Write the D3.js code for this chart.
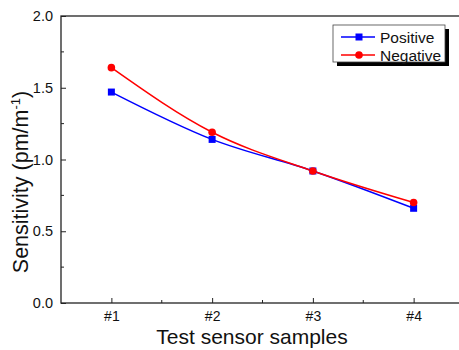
<!DOCTYPE html>
<html>
<head>
<meta charset="utf-8">
<script src="https://cdn.jsdelivr.net/npm/d3@7"></script>
<style>
  body { margin: 0; background: #fff; }
  text { font-family: Arial, "Liberation Sans", sans-serif; }
</style>
</head>
<body>
<div class="canvas"></div>
<script>
// data
var samples = ["#1", "#2", "#3", "#4"];
var positive = [1.47, 1.14, 0.92, 0.66];
var negative = [1.64, 1.19, 0.92, 0.70];
var yTicks = [0, 0.5, 1.0, 1.5, 2.0];

var W = 459, H = 350;
var margin = {top: 16, left: 61, bottom: 47};

var svg = d3.select(".canvas")
    .append("svg")
    .attr("width", W)
    .attr("height", H);

var x = d3.scaleLinear()
    .domain([0.5, 4.5])
    .range([margin.left, margin.left + 403]);

var y = d3.scaleLinear()
    .domain([0, 2])
    .range([H - margin.bottom, margin.top]);

// frame (right side falls outside the picture)
svg.append("rect")
    .attr("x", x(0.5))
    .attr("y", y(2))
    .attr("width", x(4.5) - x(0.5))
    .attr("height", y(0) - y(2))
    .attr("fill", "none")
    .attr("stroke", "#222")
    .attr("stroke-width", 1.3);

// Y axis, ticks pointing in
var yAxis = svg.append("g")
    .attr("transform", `translate(${x(0.5)},0)`)
    .call(d3.axisRight(y).tickValues(yTicks).tickFormat(d3.format(".1f")).tickSize(5));
yAxis.select(".domain").remove();
yAxis.selectAll("line").attr("stroke", "#222");
yAxis.selectAll("text")
    .attr("text-anchor", "end")
    .attr("x", -8)
    .style("font-size", "14.5px")
    .attr("fill", "#111");
// minor y ticks
svg.append("g").selectAll("line")
    .data([0.25, 0.75, 1.25, 1.75])
    .join("line")
    .attr("x1", x(0.5)).attr("x2", x(0.5) + 3)
    .attr("y1", d => y(d)).attr("y2", d => y(d))
    .attr("stroke", "#222");

// X axis, ticks pointing in
var xAxis = svg.append("g")
    .attr("transform", `translate(0,${y(0)})`)
    .call(d3.axisTop(x).tickValues([1, 2, 3, 4]).tickFormat((d, i) => samples[i]).tickSize(5));
xAxis.select(".domain").remove();
xAxis.selectAll("line").attr("stroke", "#222");
xAxis.selectAll("text")
    .attr("y", 18)
    .style("font-size", "14px")
    .attr("fill", "#111");
svg.append("g").selectAll("line")
    .data([1.5, 2.5, 3.5])
    .join("line")
    .attr("x1", d => x(d)).attr("x2", d => x(d))
    .attr("y1", y(0)).attr("y2", y(0) - 3)
    .attr("stroke", "#222");

// axis labels
svg.append("text")
    .attr("x", 252)
    .attr("y", 344)
    .attr("text-anchor", "middle")
    .style("font-size", "21px")
    .attr("fill", "#111")
    .text("Test sensor samples");

var yl = svg.append("text")
    .attr("transform", "translate(28,182) rotate(-90)")
    .attr("text-anchor", "middle")
    .style("font-size", "21.5px")
    .attr("fill", "#111");
yl.append("tspan").text("Sensitivity (pm/m");
yl.append("tspan").attr("dy", -8).style("font-size", "13px").text("-1");
yl.append("tspan").attr("dy", 8).text(")");

// series
var series = [
    {name: "Positive", values: positive, color: "#0000ff", shape: "square"},
    {name: "Negative", values: negative, color: "#ff0000", shape: "circle"}
];

var line = d3.line()
    .x((d, i) => x(i + 1))
    .y(d => y(d))
    .curve(d3.curveMonotoneX);

series.forEach(function(s) {
    svg.append("path")
        .datum(s.values)
        .attr("d", line)
        .attr("fill", "none")
        .attr("stroke", s.color)
        .attr("stroke-width", 1.5);
});

function drawMarker(g, s, cx, cy) {
    if (s.shape === "square") {
        g.append("rect")
            .attr("x", cx - 3.5).attr("y", cy - 3.5)
            .attr("width", 7).attr("height", 7)
            .attr("fill", s.color);
    } else {
        g.append("circle")
            .attr("cx", cx).attr("cy", cy).attr("r", 3.8)
            .attr("fill", s.color);
    }
}

series.forEach(function(s) {
    var g = svg.append("g");
    s.values.forEach((v, i) => drawMarker(g, s, x(i + 1), y(v)));
});

// legend
var lg = svg.append("g").attr("transform", "translate(333,25)");
lg.append("rect")
    .attr("x", 4).attr("y", 4)
    .attr("width", 112).attr("height", 37)
    .attr("fill", "#000");
lg.append("rect")
    .attr("width", 112).attr("height", 37)
    .attr("fill", "#fff")
    .attr("stroke", "#444")
    .attr("stroke-width", 0.8);
series.forEach(function(s, i) {
    var ly = 12 + i * 18;
    lg.append("line")
        .attr("x1", 8).attr("x2", 42)
        .attr("y1", ly).attr("y2", ly)
        .attr("stroke", s.color)
        .attr("stroke-width", 1.5);
    drawMarker(lg, s, 26, ly);
    lg.append("text")
        .attr("x", 47)
        .attr("y", ly + 5.5)
        .style("font-size", "15.5px")
        .attr("fill", "#111")
        .text(s.name);
});
</script>
</body>
</html>
